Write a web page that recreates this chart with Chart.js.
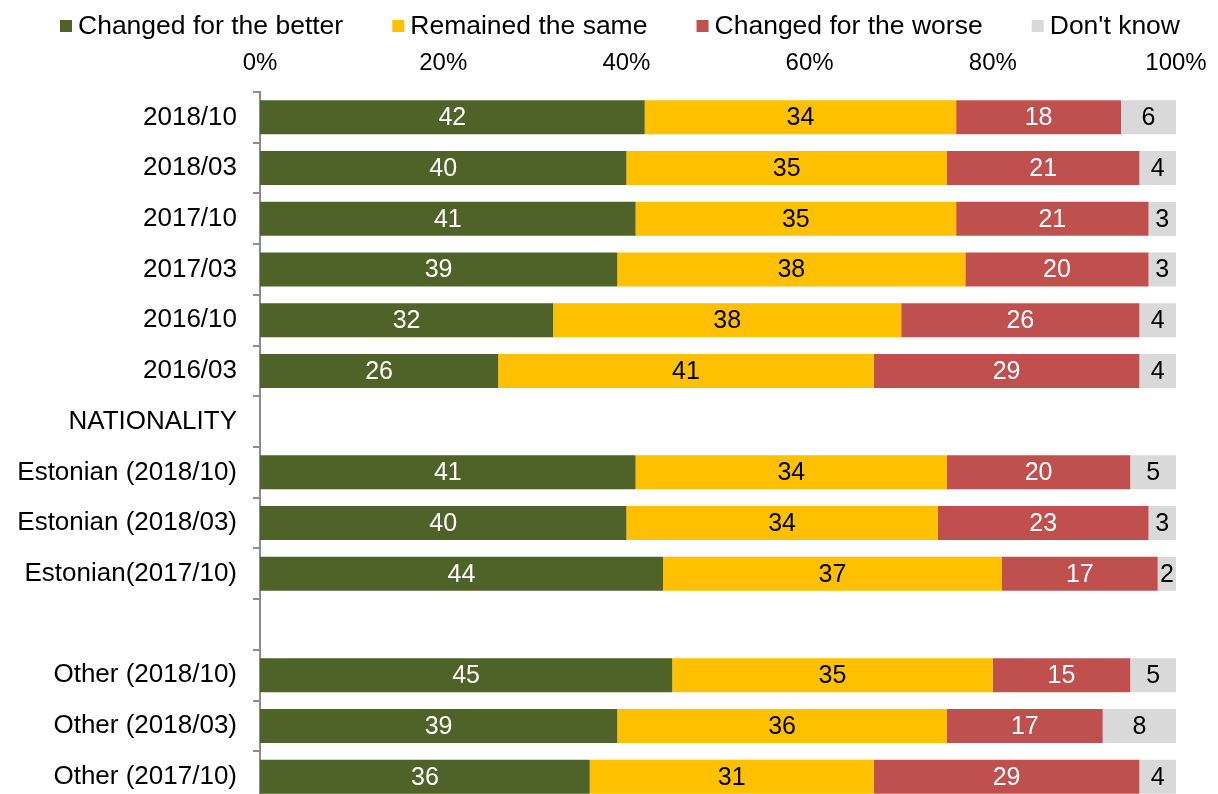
<!DOCTYPE html>
<html>
<head>
<meta charset="utf-8">
<script src="https://cdn.jsdelivr.net/npm/chart.js@4/dist/chart.umd.min.js"></script>
<style>
  html, body { margin: 0; padding: 0; background: #fff; overflow: hidden; }
  canvas { display: block; }
</style>
</head>
<body>
<canvas id="chart" width="1218" height="810"></canvas>
<script>
const categories = [
    '2018/10', '2018/03', '2017/10', '2017/03', '2016/10', '2016/03',
    'NATIONALITY',
    'Estonian (2018/10)', 'Estonian (2018/03)', 'Estonian(2017/10)',
    '',
    'Other (2018/10)', 'Other (2018/03)', 'Other (2017/10)'
];
const better = [42, 40, 41, 39, 32, 26, null, 41, 40, 44, null, 45, 39, 36];
const same   = [34, 35, 35, 38, 38, 41, null, 34, 34, 37, null, 35, 36, 31];
const worse  = [18, 21, 21, 20, 26, 29, null, 20, 23, 17, null, 15, 17, 29];
const dontKnow = [6, 4, 3, 3, 4, 4, null, 5, 3, 2, null, 5, 8, 4];
const xTicks = [0, 20, 40, 60, 80, 100];

const FONT = '"Liberation Sans", Arial, sans-serif';

// draws the value in the middle of every bar segment
const barLabels = {
    id: 'barLabels',
    afterDatasetsDraw(chart) {
        const ctx = chart.ctx;
        ctx.save();
        ctx.font = '25px ' + FONT;
        ctx.textAlign = 'center';
        ctx.textBaseline = 'middle';
        chart.data.datasets.forEach((ds, i) => {
            const meta = chart.getDatasetMeta(i);
            meta.data.forEach((bar, j) => {
                const v = ds.data[j];
                if (v == null) return;
                const x = (bar.x + bar.base) / 2;
                ctx.fillStyle = ds.labelColor;
                ctx.fillText(String(v), x, bar.y + 1);
            });
        });
        ctx.restore();
    }
};

// legend row across the top, tight box-to-text gap like the original
const topLegend = {
    id: 'topLegend',
    afterDraw(chart) {
        const ctx = chart.ctx;
        const box = 12, gap = 6, y = 26, left = 60, right = 1180;
        ctx.save();
        ctx.font = '26.5px ' + FONT;
        ctx.textBaseline = 'middle';
        const items = chart.data.datasets.map(ds => ({
            text: ds.label, color: ds.backgroundColor, w: ctx.measureText(ds.label).width
        }));
        const used = items.reduce((s, it) => s + box + gap + it.w, 0);
        const spacing = (right - left - used) / (items.length - 1);
        let x = left;
        items.forEach(it => {
            ctx.fillStyle = it.color;
            ctx.fillRect(x, y - box / 2, box, box);
            ctx.fillStyle = '#000';
            ctx.fillText(it.text, x + box + gap, y + 1);
            x += box + gap + it.w + spacing;
        });
        ctx.restore();
    }
};

new Chart(document.getElementById('chart'), {
    type: 'bar',
    data: {
        labels: categories,
        datasets: [
            { label: 'Changed for the better', data: better, backgroundColor: '#4F6228', labelColor: '#fff' },
            { label: 'Remained the same', data: same, backgroundColor: '#FFC000', labelColor: '#000' },
            { label: 'Changed for the worse', data: worse, backgroundColor: '#C0504D', labelColor: '#fff' },
            { label: "Don't know", data: dontKnow, backgroundColor: '#D9D9D9', labelColor: '#000' }
        ]
    },
    options: {
        indexAxis: 'y',
        responsive: false,
        animation: false,
        datasets: {
            bar: { categoryPercentage: 1, barPercentage: 0.67 }
        },
        layout: { padding: { top: 45, left: 2, right: 42, bottom: 8 } },
        plugins: {
            tooltip: { enabled: false },
            legend: { display: false }
        },
        scales: {
            x: {
                position: 'top',
                stacked: true,
                min: 0,
                max: 100,
                afterBuildTicks: (scale) => { scale.ticks = xTicks.map(v => ({ value: v })); },
                afterFit: (scale) => { scale.height = 47; },
                ticks: {
                    color: '#000',
                    font: { family: FONT, size: 24 },
                    padding: 6,
                    callback: v => v + '%'
                },
                grid: { display: false },
                border: { display: false }
            },
            y: {
                stacked: true,
                afterFit: (scale) => {
                    scale.width = 258;
                    scale.paddingTop = 0;
                    scale.paddingBottom = 0;
                },
                ticks: {
                    color: '#000',
                    font: { family: FONT, size: 26 },
                    padding: 16
                },
                grid: {
                    drawOnChartArea: false,
                    drawTicks: true,
                    tickLength: 7,
                    color: '#8c8c8c',
                    lineWidth: 2,
                    offset: true
                },
                border: { display: true, color: '#8c8c8c', width: 2 }
            }
        }
    },
    plugins: [barLabels, topLegend]
});
</script>
</body>
</html>
